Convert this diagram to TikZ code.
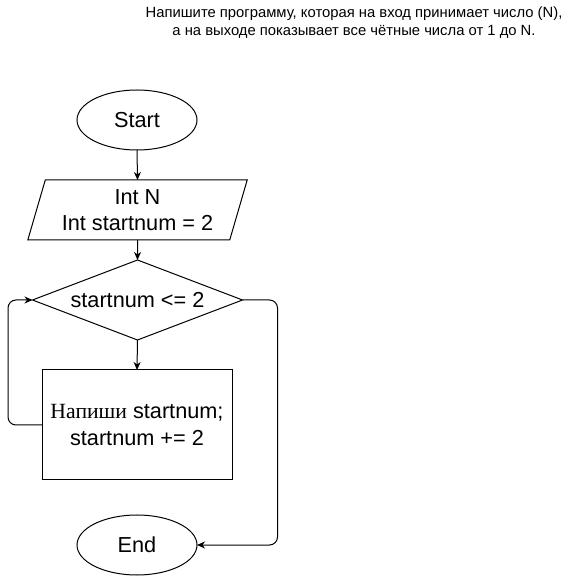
\documentclass[tikz,border=0pt]{standalone}
\usepackage{fontspec}
\setmainfont{Liberation Sans}
\newfontfamily\serifcyr{Liberation Serif}
\usetikzlibrary{shapes.geometric,arrows.meta}
\begin{document}
\begin{tikzpicture}[x=1pt,y=-1pt,
  base/.style={draw, line width=1pt, inner sep=0pt, outer sep=0pt, align=center,
    font=\fontsize{21.7}{26.5}\selectfont},
  term/.style={base, ellipse, minimum width=120pt, minimum height=60pt},
  io/.style={base, trapezium, trapezium left angle=71, trapezium right angle=109,
    trapezium stretches=true, minimum width=220pt, minimum height=60pt},
  cond/.style={base, diamond, minimum width=210pt, minimum height=80pt},
  proc/.style={base, rectangle, minimum width=190pt, minimum height=110pt},
  lbl/.style={inner sep=0pt, align=center, font=\fontsize{21.7}{26.5}\selectfont},
  arr/.style={line width=1pt, -{Stealth[length=8pt,width=7pt,inset=2.5pt]}}
]
\useasboundingbox (0,0) rectangle (579,577);
\node[inner sep=0pt, align=center, font=\fontsize{14.8}{18}\selectfont] (task) at (354,23)
  {Напишите программу, которая на вход принимает число (N),\\а на выходе показывает все чётные числа от 1 до N.};
\node[term] (start) at (137,120) {Start};
\node[io] (input) at (137.5,210) {Int N\\Int startnum = 2};
\node[cond] (check) at (137.5,300) {};
\node[lbl] (checklbl) at (check) {startnum <= 2};
\node[proc] (body) at (137,425) {{\serifcyr Напиши} startnum;\\startnum += 2};
\node[term] (stop) at (137,545) {End};
\draw[arr] (start.south) -- (input.north);
\draw[arr] (input.south) -- (check.north);
\draw[arr] (check.south) -- (body.north);
\draw[arr, rounded corners=8pt] (body.west) -- ++(-34,0) |- (check.west);
\draw[arr, rounded corners=8pt] (check.east) -- ++(35,0) |- (stop.east);
\end{tikzpicture}
\end{document}
